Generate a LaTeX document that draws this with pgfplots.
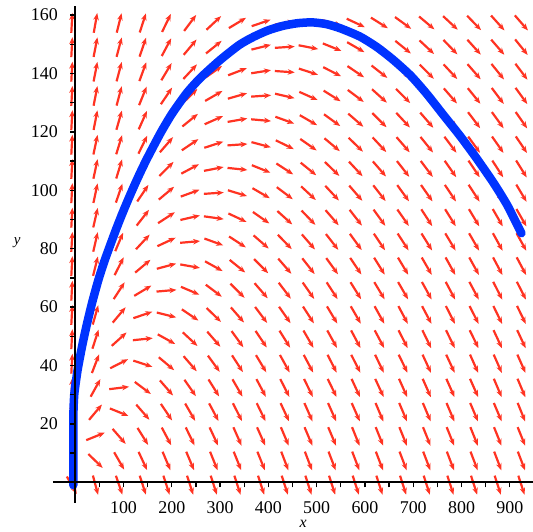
\documentclass[border=0pt]{standalone}
\usepackage{fontspec}
\setmainfont{Liberation Serif}
\usepackage{pgfplots}
\usepackage{pgfplotstable}
\pgfplotsset{compat=1.18}
\usetikzlibrary{arrows.meta,calc}
\definecolor{fieldred}{HTML}{FF3322}
\definecolor{traj}{HTML}{0033FF}
\def\arrlen{20}

% direction field: one row per grid height y, one column per grid x,
% entries are the arrow angles (degrees, as seen on the page)
\pgfplotstableread{
y     c0  c1  c2  c3  c4  c5  c6  c7  c8  c9  c10 c11 c12 c13 c14 c15 c16 c17 c18 c19
-1    -60 -75 -71 -72 -72 -72 -72 -72 -72 -72 -72 -72 -72 -72 -72 -72 -72 -72 -72 -72
7.3   87  -44 -60 -65 -67 -67 -68 -68 -68 -69 -69 -69 -69 -69 -69 -69 -69 -69 -69 -69
15.7  87  22  -49 -58 -62 -64 -65 -66 -66 -67 -67 -67 -68 -68 -68 -68 -68 -68 -68 -68
24    87  50  -22 -49 -56 -60 -62 -63 -64 -65 -66 -66 -66 -67 -67 -67 -67 -67 -67 -68
32.3  87  61  7   -37 -49 -55 -58 -60 -62 -63 -64 -64 -65 -65 -66 -66 -66 -66 -67 -67
40.6  87  69  27  -18 -40 -49 -54 -57 -59 -61 -62 -63 -63 -64 -64 -65 -65 -66 -66 -66
49    87  72  42  6   -29 -43 -49 -54 -56 -58 -60 -61 -62 -62 -63 -64 -64 -64 -65 -65
57.3  87  74  50  19  -14 -34 -44 -49 -53 -55 -57 -59 -60 -61 -62 -62 -63 -63 -64 -64
65.6  87  75  57  31  5   -23 -37 -45 -49 -53 -55 -57 -58 -59 -60 -61 -62 -62 -63 -63
74    87  76  63  40  15  -10 -29 -39 -45 -49 -52 -54 -56 -58 -59 -60 -61 -61 -62 -62
82.3  87  77  67  47  25  5   -20 -33 -41 -46 -49 -52 -54 -56 -57 -58 -59 -60 -61 -61
90.6  87  77  70  52  33  13  -8  -25 -35 -42 -46 -49 -52 -54 -55 -57 -58 -59 -60 -60
99    87  78  71  56  40  20  4   -17 -30 -37 -43 -47 -49 -52 -54 -55 -56 -57 -58 -59
107.3 87  78  73  61  45  28  11  -6  -22 -33 -39 -44 -47 -49 -52 -53 -55 -56 -57 -58
115.6 87  78  73  64  49  34  18  4   -15 -26 -35 -40 -44 -47 -49 -51 -53 -54 -55 -56
124   87  79  74  66  52  39  24  10  -5  -20 -30 -36 -41 -45 -47 -49 -51 -53 -54 -55
132.3 87  79  75  68  56  44  30  16  4   -13 -24 -32 -37 -42 -45 -47 -49 -51 -53 -54
140.6 87  79  75  70  59  47  35  21  9   -4  -18 -27 -34 -38 -42 -45 -47 -49 -51 -53
149   87  79  75  71  62  50  39  27  14  4   -11 -22 -30 -35 -39 -43 -46 -48 -49 -51
157.3 87  80  76  72  64  53  43  31  19  9   -3  -16 -25 -32 -36 -40 -43 -46 -48 -49
}\field

% one column of arrows, centred on the grid points (x unit 0.4829bp, y unit 2.92bp)
\newcommand{\fieldcol}[2]{%
  \addplot[fieldred, line width=2.2bp, -{Stealth[length=7bp,width=5.5bp]},
    quiver={u={\arrlen*cos(\thisrow{#1})/0.4829}, v={\arrlen*sin(\thisrow{#1})/2.92}}]
    table[x expr={#2-0.5*\arrlen*cos(\thisrow{#1})/0.4829},
          y expr={\thisrow{y}-0.5*\arrlen*sin(\thisrow{#1})/2.92}] {\field};
}

\begin{document}
\begin{tikzpicture}
\begin{axis}[
    x=0.4829bp, y=2.92bp,
    xmin=-46, xmax=948, ymin=-7, ymax=163,
    axis lines=middle, axis on top, clip=false,
    axis line style={-, line width=1.6bp, black},
    tick style={black, line width=1.3bp},
    major tick length=5bp, minor tick length=5bp,
    tick align=outside,
    xtick={100,200,...,900}, minor xtick={50,150,...,850},
    ytick={20,40,...,160}, minor ytick={10,30,...,150},
    /pgf/number format/assume math mode=true,
    ticklabel style={font=\fontsize{18}{18}\selectfont, inner sep=0pt},
    xticklabel style={anchor=north, yshift=-14.4bp},
    yticklabel style={anchor=east, xshift=-12.2bp},
  ]
  \fieldcol{c0}{-7}
  \fieldcol{c1}{42}
  \fieldcol{c2}{91}
  \fieldcol{c3}{140}
  \fieldcol{c4}{189}
  \fieldcol{c5}{238}
  \fieldcol{c6}{287}
  \fieldcol{c7}{336}
  \fieldcol{c8}{385}
  \fieldcol{c9}{434}
  \fieldcol{c10}{483}
  \fieldcol{c11}{532}
  \fieldcol{c12}{581}
  \fieldcol{c13}{630}
  \fieldcol{c14}{679}
  \fieldcol{c15}{728}
  \fieldcol{c16}{777}
  \fieldcol{c17}{826}
  \fieldcol{c18}{875}
  \fieldcol{c19}{924}

  \addplot[traj, line width=8.5bp, line join=round, line cap=round, smooth, tension=0.4]
    coordinates {(-4,-1) (-4,8) (-4,18) (-3.5,25) (-2,30) (1,34) (5,38.5) (10,43)
      (16,48) (24,54) (35,61.5) (48,69.3) (60,75.5) (72,81) (86,87.2) (100,93)
      (113,98.1) (130,104.4) (148,110.6) (176,119.4) (200,126.1) (231,133.3) (260,138.6)
      (300,144.6) (340,149.8) (370,152.6) (400,154.8) (430,156.3) (460,157.2) (490,157.5)
      (520,156.9) (550,155.4) (590,152.6) (625,149) (659,144.6) (695,139.2) (728,133)
      (760,126.3) (797,118.6) (830,111.2) (866,102.6) (895,94.8) (924,85.3)};

  \coordinate (sw) at (rel axis cs:0,0);
  \coordinate (ne) at (rel axis cs:1,1);
  \node[font=\fontsize{16}{16}\selectfont\itshape] at (axis cs:472,-14.4) {x};
  \node[font=\fontsize{15}{15}\selectfont\itshape] at (axis cs:-120,82) {y};
\end{axis}
\pgfresetboundingbox
\path ($(sw)+(-53bp,-28.3bp)$) rectangle ($(ne)+(0bp,6.3bp)$);
\end{tikzpicture}
\end{document}
